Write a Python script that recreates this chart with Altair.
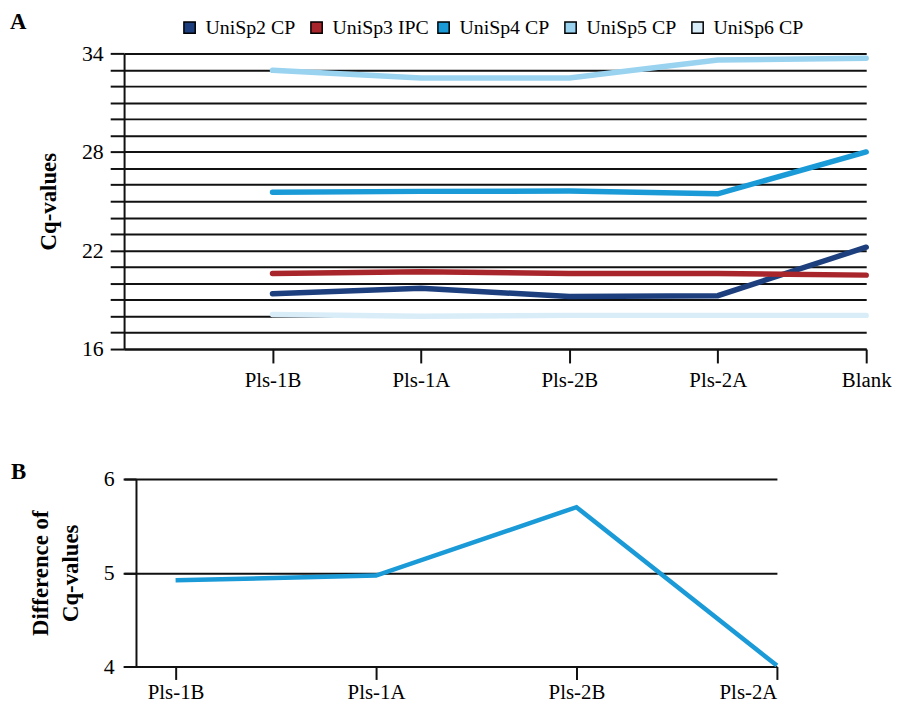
import altair as alt
import pandas as pd

FONT = "Liberation Serif"

# ---- Panel A data ----
samples = ["Pls-1B", "Pls-1A", "Pls-2B", "Pls-2A", "Blank"]
series = ["UniSp2 CP", "UniSp3 IPC", "UniSp4 CP", "UniSp5 CP", "UniSp6 CP"]
unisp2 = [19.37, 19.70, 19.20, 19.25, 22.20]
unisp3 = [20.60, 20.70, 20.60, 20.60, 20.50]
unisp4 = [25.55, 25.60, 25.62, 25.45, 28.00]
unisp5 = [32.97, 32.50, 32.50, 33.60, 33.70]
unisp6 = [18.10, 18.00, 18.05, 18.05, 18.05]
colors = ["#1d3f7e", "#a8262b", "#1a9ad7", "#9ad3f0", "#d9edf9"]

# ---- Panel B data ----
diff_samples = ["Pls-1B", "Pls-1A", "Pls-2B", "Pls-2A"]
diff_values = [4.92, 4.97, 5.70, 4.01]
diff_ticks = [4, 5, 6]

rows = []
for s, vals in zip(series, [unisp2, unisp3, unisp4, unisp5, unisp6]):
    for i, (smp, v) in enumerate(zip(samples, vals)):
        rows.append({"series": s, "sample": smp, "idx": i, "cq": v})
dfA = pd.DataFrame(rows)
dfB = pd.DataFrame({"idx": list(range(len(diff_samples))), "sample": diff_samples, "diff": diff_values})

xA = alt.X(
    "sample:N",
    scale=alt.Scale(type="point", domain=[""] + samples, padding=0),
    axis=alt.Axis(values=samples, title=None, grid=False, domain=True, ticks=True,
                  tickSize=14, tickWidth=2, domainWidth=2, labelPadding=7,
                  labelFontSize=21, labelAngle=0),
)
yA = alt.Y(
    "cq:Q",
    scale=alt.Scale(domain=[16, 34], nice=False, zero=False),
    axis=alt.Axis(values=list(range(16, 35)),
                  labelExpr="datum.value % 6 == 4 ? datum.label : ''",
                  grid=True, gridColor="#111111", gridWidth=2,
                  tickSize=14, tickWidth=2, domainWidth=2, labelPadding=7,
                  labelFontSize=22, title="Cq-values", titleFontSize=23,
                  titleFontWeight="bold", titlePadding=21),
)

linesA = alt.Chart(dfA).mark_line(strokeWidth=5.5, strokeCap="round").encode(
    x=xA, y=yA,
    stroke=alt.Stroke("series:N", scale=alt.Scale(domain=series, range=colors), legend=None),
    order=alt.Order("idx:Q"),
)
legendA = alt.Chart(dfA).mark_point(filled=True, shape="square", opacity=0,
                                    stroke="black", strokeWidth=1.5).encode(
    x=xA, y=yA,
    fill=alt.Fill("series:N", scale=alt.Scale(domain=series, range=colors),
                  legend=alt.Legend(title=None, orient="none", legendX=56, legendY=-36,
                                    direction="horizontal", columns=5, gridAlign="all",
                                    columnPadding=4, symbolType="square", symbolSize=130,
                                    symbolStrokeColor="black", symbolStrokeWidth=1.5,
                                    labelFontSize=20, labelFont=FONT, labelOffset=6,
                                    labelColor="black", padding=0, labelLimit=200)),
)
panelA = alt.layer(linesA, legendA).resolve_scale(fill="independent", stroke="independent").properties(
    width=748, height=298,
    title=alt.TitleParams("A", anchor="start", frame="group", dx=-115, dy=20, fontSize=23,
                          font=FONT, fontWeight="bold", color="black"),
)

xB = alt.X(
    "idx:Q",
    scale=alt.Scale(domain=[-0.257, 3], nice=False, zero=False),
    axis=alt.Axis(values=list(range(len(diff_samples))),
                  labelExpr="[" + ",".join("'" + s + "'" for s in diff_samples) + "][datum.value]",
                  title=None, grid=False, domain=False, ticks=True, tickSize=13, tickWidth=2,
                  labelPadding=2, labelFontSize=21),
)
yB = alt.Y(
    "diff:Q",
    scale=alt.Scale(domain=[4, 6], nice=False, zero=False),
    axis=alt.Axis(values=diff_ticks, labelExpr="toString(datum.value)",
                  grid=True, gridColor="#111111", gridWidth=2,
                  offset=-12, tickSize=13, tickWidth=2, domainWidth=2, labelPadding=9,
                  labelFontSize=22, title=["Difference of", "Cq-values"], titleFontSize=23,
                  titleFontWeight="bold", titlePadding=21, titleLineHeight=30),
)
panelB = alt.Chart(dfB).mark_line(strokeWidth=4.5, color="#1a9ad7").encode(
    x=xB, y=yB
).properties(
    width=658, height=189,
    title=alt.TitleParams("B", anchor="start", frame="group", dx=-114, dy=20, fontSize=23,
                          font=FONT, fontWeight="bold", color="black"),
)

chart = alt.vconcat(panelA, panelB, spacing=71).properties(
    padding={"left": 2, "top": 0, "right": 0, "bottom": -2},
    background="white",
).configure_view(stroke=None).configure_axis(
    labelFont=FONT, titleFont=FONT, labelColor="black", titleColor="black",
    domainColor="#111111", tickColor="#111111",
)

chart.save("out.html", embed_options={"renderer": "svg", "actions": False})
